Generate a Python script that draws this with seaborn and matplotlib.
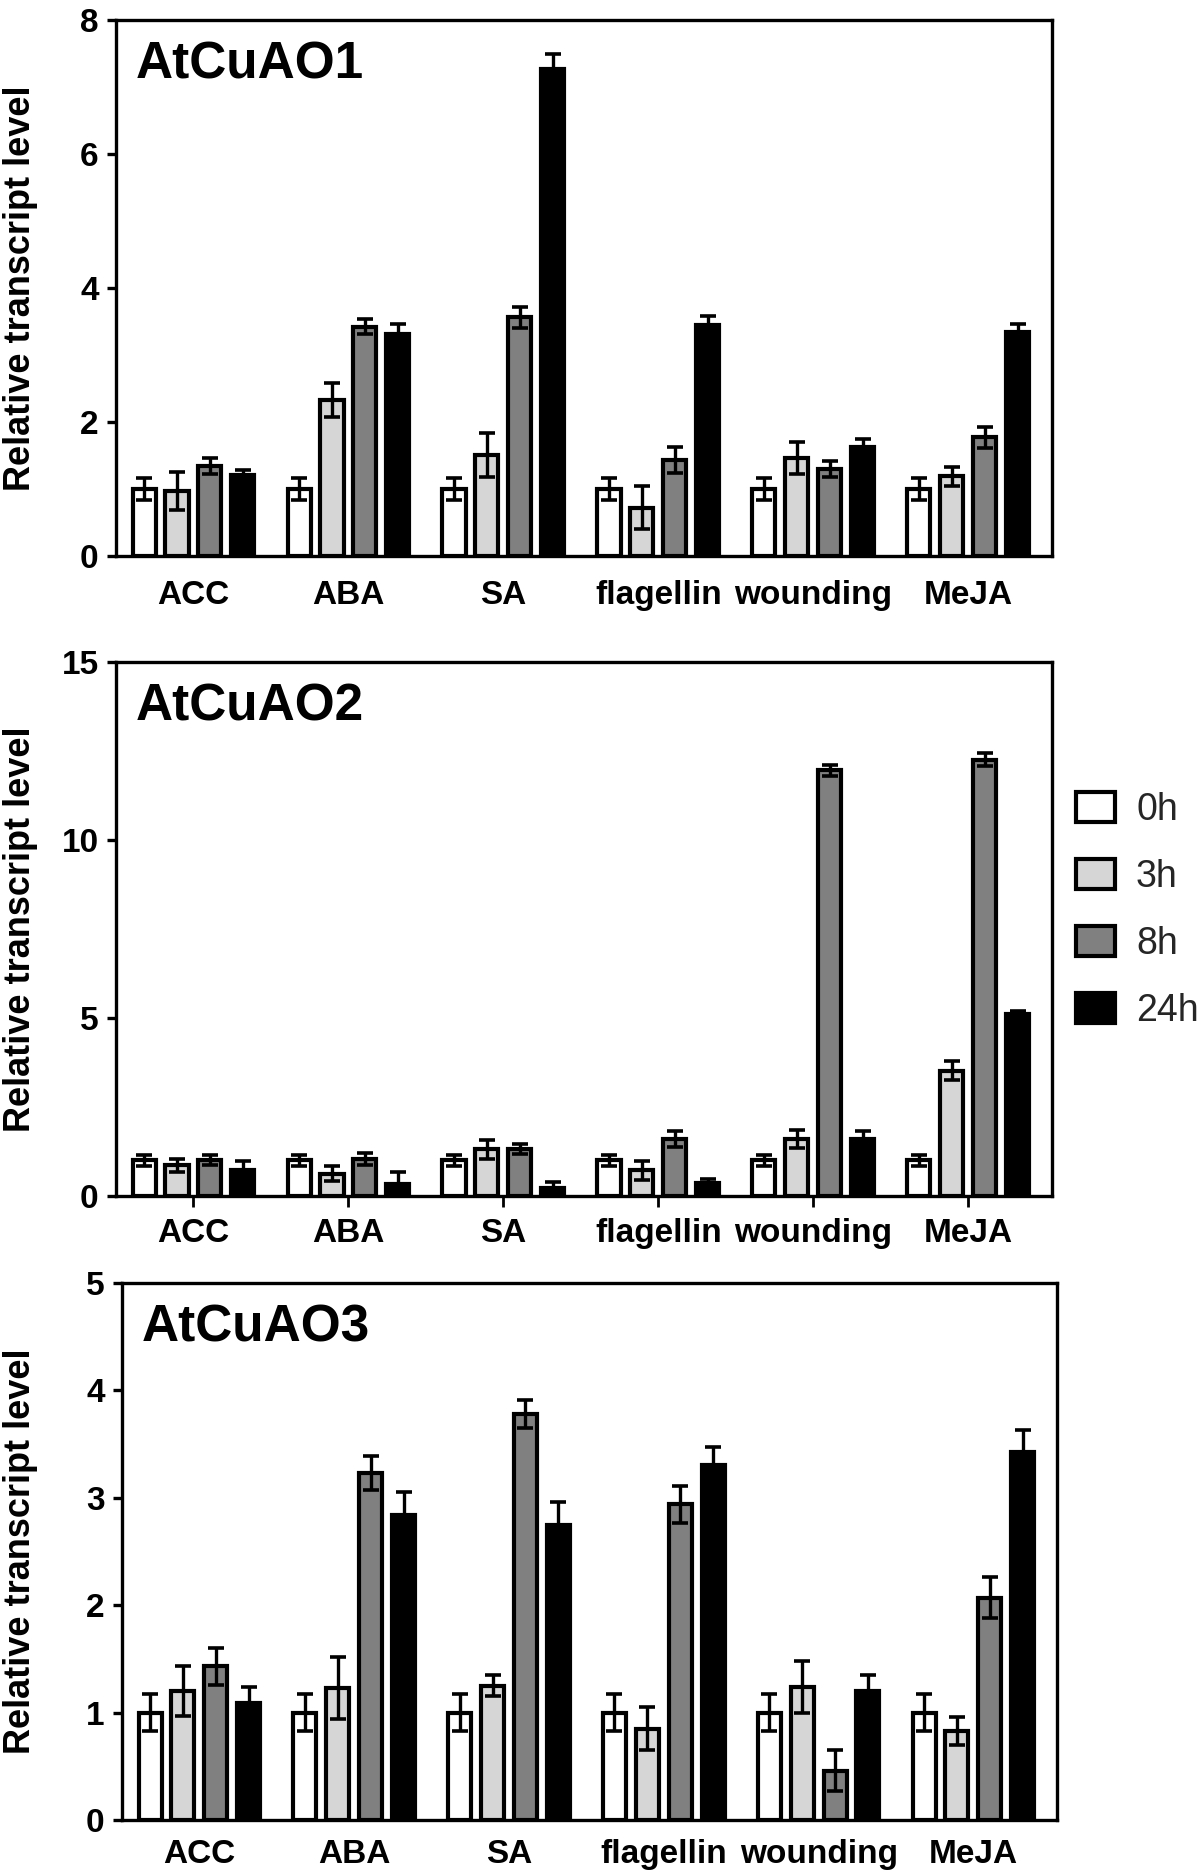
import numpy as np
import pandas as pd
import matplotlib
matplotlib.use("Agg")
import matplotlib.pyplot as plt
import seaborn as sns

# ---------------- data ----------------
treatments = ["ACC", "ABA", "SA", "flagellin", "wounding", "MeJA"]
times = ["0h", "3h", "8h", "24h"]
time_colors = ["#ffffff", "#d6d6d6", "#808080", "#000000"]

# AtCuAO1
ao1_0h = [1.00, 1.00, 1.00, 1.00, 1.00, 1.00]
ao1_3h = [0.97, 2.33, 1.51, 0.72, 1.46, 1.19]
ao1_8h = [1.34, 3.42, 3.56, 1.43, 1.30, 1.77]
ao1_24h = [1.21, 3.32, 7.27, 3.45, 1.63, 3.34]
ao1_0h_err = [0.17, 0.17, 0.17, 0.17, 0.17, 0.17]
ao1_3h_err = [0.29, 0.25, 0.33, 0.32, 0.24, 0.14]
ao1_8h_err = [0.12, 0.11, 0.15, 0.19, 0.12, 0.16]
ao1_24h_err = [0.07, 0.14, 0.22, 0.13, 0.11, 0.12]

# AtCuAO2
ao2_0h = [1.00, 1.00, 1.00, 1.00, 1.00, 1.00]
ao2_3h = [0.86, 0.63, 1.31, 0.72, 1.60, 3.52]
ao2_8h = [1.01, 1.04, 1.33, 1.60, 11.96, 12.26]
ao2_24h = [0.72, 0.34, 0.22, 0.37, 1.60, 5.10]
ao2_0h_err = [0.16, 0.16, 0.16, 0.16, 0.16, 0.16]
ao2_3h_err = [0.18, 0.22, 0.27, 0.27, 0.25, 0.27]
ao2_8h_err = [0.14, 0.16, 0.14, 0.22, 0.15, 0.18]
ao2_24h_err = [0.25, 0.33, 0.18, 0.11, 0.22, 0.10]

# AtCuAO3
ao3_0h = [1.00, 1.00, 1.00, 1.00, 1.00, 1.00]
ao3_3h = [1.20, 1.23, 1.25, 0.85, 1.24, 0.83]
ao3_8h = [1.43, 3.23, 3.78, 2.94, 0.46, 2.07]
ao3_24h = [1.09, 2.84, 2.75, 3.31, 1.20, 3.43]
ao3_0h_err = [0.17, 0.17, 0.17, 0.17, 0.17, 0.17]
ao3_3h_err = [0.23, 0.29, 0.10, 0.20, 0.24, 0.13]
ao3_8h_err = [0.17, 0.16, 0.13, 0.17, 0.19, 0.19]
ao3_24h_err = [0.15, 0.21, 0.21, 0.16, 0.15, 0.20]

panel_titles = ["AtCuAO1", "AtCuAO2", "AtCuAO3"]
y_limits = [8, 15, 5]
y_ticks = [[0, 2, 4, 6, 8], [0, 5, 10, 15], [0, 1, 2, 3, 4, 5]]
ylabel_text = "Relative transcript level"

panels = [
    ([ao1_0h, ao1_3h, ao1_8h, ao1_24h], [ao1_0h_err, ao1_3h_err, ao1_8h_err, ao1_24h_err]),
    ([ao2_0h, ao2_3h, ao2_8h, ao2_24h], [ao2_0h_err, ao2_3h_err, ao2_8h_err, ao2_24h_err]),
    ([ao3_0h, ao3_3h, ao3_8h, ao3_24h], [ao3_0h_err, ao3_3h_err, ao3_8h_err, ao3_24h_err]),
]

# ---------------- style ----------------
sns.set_theme(style="ticks")
plt.rcParams["font.family"] = ["Liberation Sans", "DejaVu Sans"]

W, H = 1200, 1875
fig = plt.figure(figsize=(W / 100, H / 100), dpi=100)

# axes boxes in pixels: left, right, top, bottom
boxes = [(116, 1052, 20, 556), (116, 1052, 662, 1196), (122, 1057, 1283, 1820)]
xtick_len = [0, 8, 0]
xtick_pad = [17, 8, 14]

LW = 2.4
axes = []
bar_conts = []
for i, ((vals, errs), (l, r, t, b)) in enumerate(zip(panels, boxes)):
    ax = fig.add_axes([l / W, 1 - b / H, (r - l) / W, (b - t) / H])
    axes.append(ax)
    rows = []
    for ti, tm in enumerate(times):
        for ci, tr in enumerate(treatments):
            rows.append({"treatment": tr, "time": tm, "value": vals[ti][ci]})
    df = pd.DataFrame(rows)
    sns.barplot(data=df, x="treatment", y="value", hue="time", order=treatments,
                hue_order=times, palette=time_colors, saturation=1, width=0.85, gap=0.3,
                edgecolor="black", linewidth=3.0, errorbar=None, legend=False, ax=ax, zorder=2)
    conts = list(ax.containers)
    bar_conts.append(conts)
    # error bars positioned from the library's bar geometry
    for ti, cont in enumerate(conts):
        xs = [p.get_x() + p.get_width() / 2 for p in cont.patches]
        ys = [p.get_height() for p in cont.patches]
        ax.errorbar(xs, ys, yerr=errs[ti], fmt="none", ecolor="black", elinewidth=2.4,
                    capsize=5.5, capthick=2.6, zorder=3)
    ax.set_xlim(-0.5, 5.54)
    ax.set_ylim(0, y_limits[i])
    ax.set_yticks(y_ticks[i])
    ax.set_xlabel("")
    ax.set_ylabel("")
    for s in ax.spines.values():
        s.set_visible(True)
        s.set_linewidth(LW)
        s.set_color("black")
    ax.tick_params(axis="y", direction="out", length=6.5, width=LW, pad=6,
                   labelsize=24, colors="black")
    ax.tick_params(axis="x", direction="out", length=xtick_len[i], width=2.0,
                   pad=xtick_pad[i], labelsize=24, colors="black")
    for lab in ax.get_xticklabels() + ax.get_yticklabels():
        lab.set_fontweight("bold")
    ax.annotate(panel_titles[i], xy=(0, 1), xycoords="axes fraction",
                xytext=(14, -42), textcoords="offset points",
                ha="left", va="baseline", fontsize=37, fontweight="bold", color="black")
    fig.text(21 / W, 1 - ((t + b) / 2) / H, ylabel_text, rotation=90, ha="center",
             va="center", fontsize=26, fontweight="bold", color="black")

# legend next to the middle panel
ax2 = axes[1]
leg = ax2.legend(bar_conts[1], times, loc="upper left",
                 bbox_to_anchor=(1076 / W, 1 - 792 / H), bbox_transform=fig.transFigure,
                 frameon=False, fontsize=27, handlelength=1.05, handleheight=0.85,
                 handletextpad=0.55, labelspacing=0.83, borderpad=0, borderaxespad=0)

fig.savefig("out.png", dpi=100, facecolor="white")
